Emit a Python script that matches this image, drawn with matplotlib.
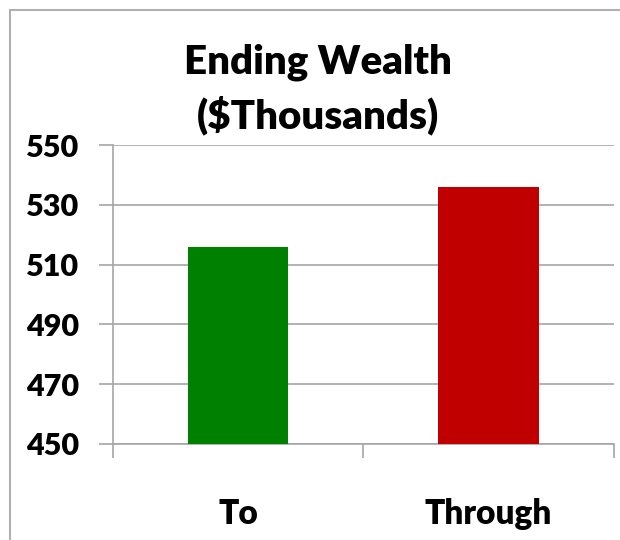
"""Ending wealth bar chart, Excel style."""

import matplotlib

matplotlib.use("Agg")
import matplotlib.pyplot as plt
from matplotlib.patches import Rectangle
import numpy as np

categories = ["To", "Through"]
values = [516, 536]
bar_colors = ["#008000", "#C00000"]
y_ticks = [450, 470, 490, 510, 530, 550]

plt.rcParams["font.family"] = ["Lato", "DejaVu Sans"]
plt.rcParams["font.weight"] = "heavy"

fig = plt.figure(figsize=(6.2, 5.4), dpi=100)
ax = fig.add_axes((0.182, 0.178, 0.808, 0.553))

x = np.arange(len(categories))
ax.bar(x, np.array(values) - y_ticks[0], bottom=y_ticks[0], width=0.4,
       color=bar_colors, zorder=3)

grid_color = "#a6a6a6"
ax.set_ylim(y_ticks[0], y_ticks[-1])
ax.set_xlim(-0.5, len(categories) - 0.5)
ax.set_yticks(y_ticks)
ax.set_yticklabels([str(v) for v in y_ticks], fontsize=22, fontweight="heavy")
ax.yaxis.grid(True, color=grid_color, linewidth=1.2, zorder=0)

# category boundary ticks on the x axis, labels centred on the bars
ax.set_xticks(np.arange(len(categories) + 1) - 0.5)
ax.set_xticklabels([])
ax.set_xticks(x, minor=True)
ax.set_xticklabels(categories, minor=True, fontsize=24, fontweight="heavy")
ax.tick_params(axis="x", which="minor", length=0, pad=39)
ax.tick_params(axis="x", which="major", length=10, color=grid_color, width=1.2)
ax.tick_params(axis="y", length=10, color=grid_color, width=1.2, pad=14)

for side in ("top", "right"):
    ax.spines[side].set_visible(False)
for side in ("left", "bottom"):
    ax.spines[side].set_color(grid_color)
    ax.spines[side].set_linewidth(1.2)

fig.text(0.513, 0.835, "Ending Wealth\n($Thousands)", ha="center", va="center",
         fontsize=29, fontweight="heavy", linespacing=1.45)

fig.patches.append(Rectangle((10 / 620, -0.05), 1.2, 1.05 - 10 / 540,
                             transform=fig.transFigure, fill=False,
                             edgecolor="#b0b0b0", linewidth=1.5))

fig.savefig("out.png", dpi=100)
